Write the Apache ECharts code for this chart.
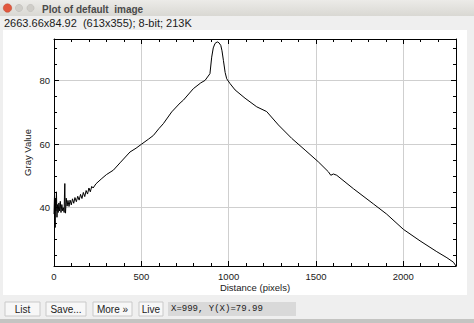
<!DOCTYPE html>
<html>
<head>
<meta charset="utf-8">
<script src="https://cdn.jsdelivr.net/npm/echarts@6/dist/echarts.min.js"></script>
<style>
html,body{margin:0;padding:0;background:#efefef;}
#c{width:474px;height:323px;}
</style>
</head>
<body>
<div id="c"></div>
<script>
// Profile data (distance in pixels, gray value)
const distance = [0,3,5,7,9,11,14,17,20,24,28,32,36,40,45,50,55,58,60,62,64,66,70,75,80,86,92,99,106,113,120,128,136,144,152,160,168,176,184,192,200,208,216,224,240,270,300,340,378,435,470,502,540,569,600,626,674,722,741,798,840,865,893,903,912,922,935,945,955,962,970,980,989,1008,1037,1094,1161,1218,1285,1361,1438,1514,1571,1585,1600,1619,1714,1829,1905,2001,2096,2192,2250,2287,2302];
const grayValue = [38,44,36,33.8,43,39,45,37,41,38.5,41.5,39,42,38.5,41,39,40,38.5,44,47.6,40,38.3,43,40.5,42.3,40.4,42.4,40.9,42.8,41.4,43.2,41.9,43.6,42.4,44.2,42.9,44.8,43.5,45.4,44.3,46.2,45,46.7,46.2,47.5,49,50.4,51.8,54.1,57.5,58.7,60,61.5,62.7,64.8,66.4,70.1,72.9,73.8,77.4,79.2,80,82.1,87.3,90.2,91.6,92.1,91.8,91,89.3,86.3,82.5,80.5,79,77,74.4,71.7,70.2,66,61.8,58.1,54.4,51.3,50.2,50.6,50.2,46,41.2,38,33.2,29.6,26.2,24.3,22.9,21.7];

const xMajorTicks = [0,500,1000,1500,2000];
const xMinorTicks = [100,200,300,400,600,700,800,900,1100,1200,1300,1400,1600,1700,1800,1900,2100,2200];
const yMajorTicks = [40,60,80];
const yMinorTicks = [25,30,35,45,50,55,65,70,75,85,90];
const xRange = [0,2302];
const yRange = [21.7,93];

const windowTitle = 'Plot of default  image';
const headerText = '2663.66x84.92  (613x355); 8-bit; 213K';
const buttons = ['List','Save...','More \u00bb','Live'];
const statusText = 'X=999, Y(X)=79.99';

const chart = echarts.init(document.getElementById('c'), null, {renderer:'svg', width:474, height:323});

const FONT = 'Liberation Sans, Arial, sans-serif';
const labelStyle = {color:'#1a1a1a', fontSize:9.5, fontFamily:FONT};

function xAx(pos, ticks, len, showLine, extra) {
  return Object.assign({
    type:'value', position:pos, min:xRange[0], max:xRange[1],
    axisLine:{show:showLine, onZero:false, lineStyle:{color:'#000', width:1}},
    axisTick:{show:true, inside:true, length:len, customValues:ticks, lineStyle:{color:'#000', width:1}},
    axisLabel:{show:false},
    splitLine:{show:false}
  }, extra||{});
}
function yAx(pos, ticks, len, showLine, extra) {
  return Object.assign({
    type:'value', position:pos, min:yRange[0], max:yRange[1],
    axisLine:{show:showLine, onZero:false, lineStyle:{color:'#000', width:1}},
    axisTick:{show:true, inside:true, length:len, customValues:ticks, lineStyle:{color:'#000', width:1}},
    axisLabel:{show:false},
    splitLine:{show:false}
  }, extra||{});
}

const btnX = [5,46,93,139];
const btnW = [35,40,39,24];
const graphics = [
  {type:'rect', z:-10, shape:{x:0,y:0,width:474,height:16}, style:{fill:{type:'linear',x:0,y:0,x2:0,y2:1,colorStops:[{offset:0,color:'#ecebe8'},{offset:1,color:'#d9d8d3'}]}}},
  {type:'circle', z:-5, shape:{cx:7.5,cy:8,r:4.2}, style:{fill:'#e2583e', stroke:'#b8452f', lineWidth:0.5}},
  {type:'circle', z:-5, shape:{cx:19,cy:8,r:3.6}, style:{fill:'#cfcdc8', stroke:'#b9b7b2', lineWidth:0.5}},
  {type:'circle', z:-5, shape:{cx:30.5,cy:8,r:3.6}, style:{fill:'#cfcdc8', stroke:'#b9b7b2', lineWidth:0.5}},
  {type:'text', z:-5, style:{x:42, y:9, text:windowTitle, fill:'#4a4a4a', font:'bold 10px '+FONT, verticalAlign:'middle'}},
  {type:'text', z:-5, style:{x:4, y:23, text:headerText, fill:'#1a1a1a', font:'11px '+FONT, verticalAlign:'middle'}},
  {type:'rect', z:-10, shape:{x:3,y:30,width:464,height:265}, style:{fill:'#ffffff'}},
  {type:'rect', z:-10, shape:{x:0,y:319,width:474,height:4}, style:{fill:'#c4c4c2'}},
  {type:'rect', z:-5, shape:{x:168,y:302,width:128,height:14}, style:{fill:'#d9d9d9'}},
  {type:'text', z:-4, style:{x:171, y:309, text:statusText, fill:'#222', font:'9px Liberation Mono, monospace', verticalAlign:'middle'}}
];
buttons.forEach((b,i)=>{
  graphics.push({type:'rect', z:-5, shape:{x:btnX[i],y:302,width:btnW[i],height:14}, style:{fill:'#f7f7f7', stroke:'#c9c9c9', lineWidth:1}});
  graphics.push({type:'text', z:-4, style:{x:btnX[i]+btnW[i]/2, y:309, text:b, fill:'#222', font:'10px '+FONT, align:'center', verticalAlign:'middle'}});
});

const option = {
  animation:false,
  backgroundColor:'#efefef',
  grid:{left:54, top:39, right:18, bottom:57, containLabel:false, outerBoundsMode:'none'},
  graphic:graphics,
  xAxis:[
    xAx('bottom', xMajorTicks, 5, true, {
      axisLabel:{show:true, customValues:xMajorTicks, margin:5, formatter:v=>String(v), ...labelStyle},
      splitLine:{show:true, lineStyle:{color:'#cfcfcf', width:1}},
      name:'Distance (pixels)', nameLocation:'middle', nameGap:16, nameMoveOverlap:false,
      nameTextStyle:{color:'#1a1a1a', fontSize:9.5, fontFamily:FONT}
    }),
    xAx('bottom', xMinorTicks, 3, false),
    xAx('top', xMajorTicks, 5, true),
    xAx('top', xMinorTicks, 3, false)
  ],
  yAxis:[
    yAx('left', yMajorTicks, 5, true, {
      axisLabel:{show:true, customValues:yMajorTicks, margin:4, formatter:v=>String(v), ...labelStyle},
      splitLine:{show:true, lineStyle:{color:'#cfcfcf', width:1}},
      name:'Gray Value', nameLocation:'middle', nameGap:22, nameMoveOverlap:false,
      nameTextStyle:{color:'#1a1a1a', fontSize:9.5, fontFamily:FONT}
    }),
    yAx('left', yMinorTicks, 3, false),
    yAx('right', yMajorTicks, 5, true),
    yAx('right', yMinorTicks, 3, false)
  ],
  series:[{
    type:'line', xAxisIndex:0, yAxisIndex:0,
    data:distance.map((d,i)=>[d, grayValue[i]]),
    showSymbol:false, symbol:'none', smooth:false,
    lineStyle:{color:'#000', width:1},
    z:5
  }]
};
chart.setOption(option);
</script>
</body>
</html>
